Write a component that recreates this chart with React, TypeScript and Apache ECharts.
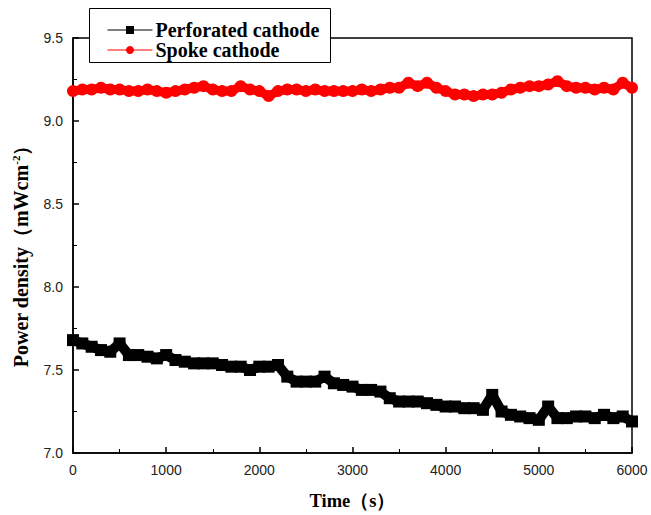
import React, { useEffect, useRef } from "react";
import * as echarts from "echarts";

const times = [
  0, 100, 200, 300, 400, 500, 600, 700, 800, 900,
  1000, 1100, 1200, 1300, 1400, 1500, 1600, 1700, 1800, 1900,
  2000, 2100, 2200, 2300, 2400, 2500, 2600, 2700, 2800, 2900,
  3000, 3100, 3200, 3300, 3400, 3500, 3600, 3700, 3800, 3900,
  4000, 4100, 4200, 4300, 4400, 4500, 4600, 4700, 4800, 4900,
  5000, 5100, 5200, 5300, 5400, 5500, 5600, 5700, 5800, 5900, 6000,
];

const perforated = [
  7.68, 7.66, 7.64, 7.62, 7.61, 7.66, 7.59, 7.59, 7.58, 7.57,
  7.59, 7.56, 7.55, 7.54, 7.54, 7.54, 7.53, 7.52, 7.52, 7.5,
  7.52, 7.52, 7.53, 7.46, 7.43, 7.43, 7.43, 7.46, 7.42, 7.41,
  7.4, 7.38, 7.38, 7.37, 7.33, 7.31, 7.31, 7.31, 7.3, 7.29,
  7.28, 7.28, 7.27, 7.27, 7.26, 7.35, 7.25, 7.23, 7.22, 7.21,
  7.2, 7.28, 7.21, 7.21, 7.22, 7.22, 7.21, 7.23, 7.21, 7.22, 7.19,
];

const spoke = [
  9.18, 9.19, 9.19, 9.2, 9.19, 9.19, 9.18, 9.18, 9.19, 9.18,
  9.17, 9.18, 9.19, 9.2, 9.21, 9.19, 9.18, 9.18, 9.21, 9.19,
  9.18, 9.15, 9.18, 9.19, 9.19, 9.18, 9.19, 9.18, 9.18, 9.18,
  9.18, 9.19, 9.18, 9.19, 9.2, 9.2, 9.23, 9.21, 9.23, 9.2,
  9.18, 9.16, 9.16, 9.15, 9.16, 9.16, 9.17, 9.19, 9.2, 9.21,
  9.21, 9.22, 9.24, 9.21, 9.2, 9.2, 9.19, 9.2, 9.19, 9.23, 9.2,
];

const seriesNames = ["Perforated cathode", "Spoke cathode"];

export default function App() {
  const ref = useRef<HTMLDivElement>(null);
  useEffect(() => {
    if (!ref.current) return;
    const chart = echarts.init(ref.current, null, { renderer: "svg" });
    const serif = "'Liberation Serif', 'Times New Roman', serif";
    const sans = "'Liberation Sans', Arial, sans-serif";
    chart.setOption({
      animation: false,
      backgroundColor: "#fff",
      grid: {
        left: 73,
        right: 19,
        top: 38,
        bottom: 61,
        show: true,
        borderColor: "#000",
        borderWidth: 1.5,
        backgroundColor: "transparent",
      },
      graphic: [
        {
          type: "rect",
          z: 3,
          shape: { x: 89.5, y: 8.5, width: 241, height: 54 },
          style: { fill: "#fff", stroke: "#000", lineWidth: 1 },
        },
      ],
      legend: {
        orient: "vertical",
        left: 107,
        top: 20,
        padding: 0,
        itemGap: 0,
        itemWidth: 45,
        itemHeight: 10,
        z: 5,
        data: seriesNames,
        lineStyle: { width: 1 },
        textStyle: {
          fontFamily: serif,
          fontWeight: "bold",
          fontSize: 20,
          color: "#000",
          padding: [0, 0, 0, -2],
        },
      },
      xAxis: {
        type: "value",
        min: 0,
        max: 6000,
        interval: 1000,
        name: "Time（s）",
        nameLocation: "middle",
        nameGap: 38,
        nameTextStyle: {
          fontFamily: serif,
          fontWeight: "bold",
          fontSize: 18.5,
          color: "#000",
        },
        axisLine: { show: true, lineStyle: { color: "#000", width: 1.5 } },
        axisTick: { show: true, inside: true, length: 6, lineStyle: { color: "#000", width: 1.5 } },
        minorTick: { show: true, splitNumber: 2, length: 4, lineStyle: { color: "#000", width: 1 } },
        splitLine: { show: false },
        axisLabel: {
          fontFamily: sans,
          fontSize: 14,
          color: "#222",
          margin: 10,
          formatter: (v: number) => String(v),
        },
      },
      yAxis: {
        type: "value",
        min: 7.0,
        max: 9.5,
        interval: 0.5,
        name: "Power density（mWcm{sup|-2}）",
        nameLocation: "middle",
        nameGap: 42,
        nameTextStyle: {
          fontFamily: serif,
          fontWeight: "bold",
          fontSize: 20,
          color: "#000",
          padding: [0, 12, 0, 0],
          rich: {
            sup: {
              fontFamily: serif,
              fontWeight: "bold",
              fontSize: 11,
              color: "#000",
              verticalAlign: "top",
              padding: [0, 0, 10, 0],
            },
          },
        },
        axisLine: { show: true, lineStyle: { color: "#000", width: 1.5 } },
        axisTick: { show: true, inside: true, length: 6, lineStyle: { color: "#000", width: 1.5 } },
        minorTick: { show: true, splitNumber: 2, length: 4, lineStyle: { color: "#000", width: 1 } },
        splitLine: { show: false },
        axisLabel: {
          fontFamily: sans,
          fontSize: 14,
          color: "#222",
          margin: 10,
          formatter: (v: number) => v.toFixed(1),
        },
      },
      series: [
        {
          name: seriesNames[0],
          type: "line",
          data: times.map((t, i) => [t, perforated[i]]),
          symbol: "rect",
          symbolSize: 12,
          showAllSymbol: true,
          itemStyle: { color: "#000" },
          lineStyle: { color: "#000", width: 10 },
          z: 3,
        },
        {
          name: seriesNames[1],
          type: "line",
          data: times.map((t, i) => [t, spoke[i]]),
          symbol: "circle",
          symbolSize: 12,
          showAllSymbol: true,
          itemStyle: { color: "#ff0000" },
          lineStyle: { color: "#ff0000", width: 9 },
          z: 3,
        },
      ],
    });
    return () => chart.dispose();
  }, []);
  return <div ref={ref} style={{ width: 651, height: 515, position: "absolute", left: 0, top: 0 }} />;
}
